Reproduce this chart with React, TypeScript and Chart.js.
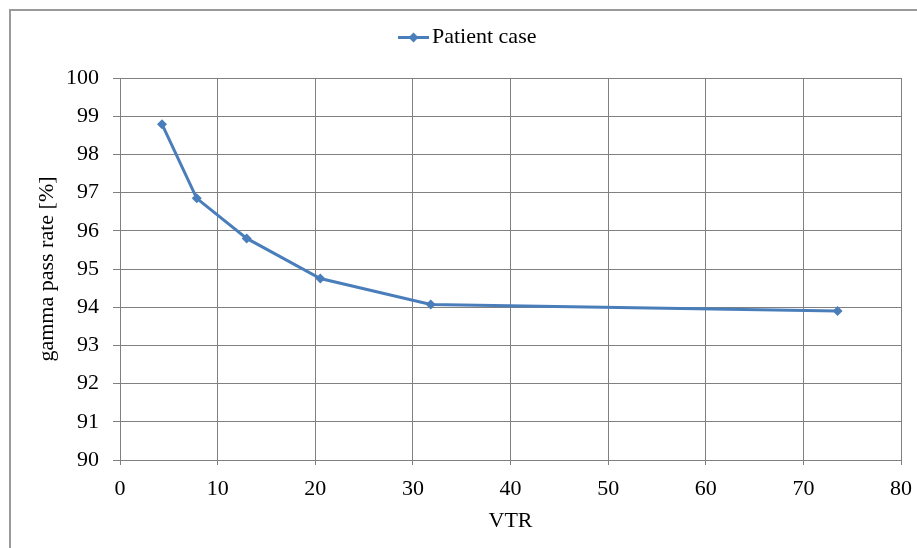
import React, { useEffect, useRef } from "react";
import { Chart, registerables } from "chart.js";

Chart.register(...registerables);

const SERIES_LABEL = "Patient case";
const VTR = [4.3, 7.86, 12.98, 20.52, 31.83, 73.5];
const PASS_RATE = [98.79, 96.85, 95.8, 94.75, 94.07, 93.9];
const X_TITLE = "VTR";
const Y_TITLE = "gamma pass rate [%]";
const X_MIN = 0;
const X_MAX = 80;
const X_STEP = 10;
const Y_MIN = 90;
const Y_MAX = 100;
const Y_STEP = 1;

const FONT = "'Liberation Serif', 'Times New Roman', serif";
const LINE_COLOR = "#4A7EBB";
const GRID_COLOR = "#808080";

const legendPlugin = {
  id: "customLegend",
  afterDraw(chart: any) {
    const ctx = chart.ctx;
    const ds = chart.data.datasets[0];
    const y = 37.5;
    const x0 = 398;
    const x1 = 429;
    ctx.save();
    ctx.strokeStyle = ds.borderColor;
    ctx.lineWidth = 3;
    ctx.beginPath();
    ctx.moveTo(x0, y);
    ctx.lineTo(x1, y);
    ctx.stroke();
    const cx = (x0 + x1) / 2;
    const r = 5;
    ctx.fillStyle = ds.backgroundColor;
    ctx.beginPath();
    ctx.moveTo(cx, y - r);
    ctx.lineTo(cx + r, y);
    ctx.lineTo(cx, y + r);
    ctx.lineTo(cx - r, y);
    ctx.closePath();
    ctx.fill();
    ctx.fillStyle = "#000";
    ctx.font = `22px ${FONT}`;
    ctx.textBaseline = "alphabetic";
    ctx.textAlign = "left";
    ctx.fillText(ds.label, 432, 43);
    ctx.restore();
  },
};

export default function App() {
  const ref = useRef<HTMLCanvasElement | null>(null);

  useEffect(() => {
    if (!ref.current) return;
    const chart = new Chart(ref.current, {
      type: "line",
      data: {
        datasets: [
          {
            label: SERIES_LABEL,
            data: VTR.map((x, i) => ({ x, y: PASS_RATE[i] })),
            borderColor: LINE_COLOR,
            backgroundColor: LINE_COLOR,
            borderWidth: 3,
            pointStyle: "rectRot",
            pointRadius: 5,
            pointBorderWidth: 0,
            tension: 0,
          },
        ],
      },
      options: {
        animation: false,
        responsive: false,
        layout: { padding: { left: 0, right: 16, top: 78, bottom: 0 } },
        plugins: {
          legend: { display: false },
          tooltip: { enabled: false },
        },
        scales: {
          x: {
            type: "linear",
            min: X_MIN,
            max: X_MAX,
            afterFit: (s: any) => {
              s.height = 88;
              s.paddingRight = 0;
              s.paddingLeft = 0;
            },
            ticks: {
              stepSize: X_STEP,
              color: "#000",
              font: { family: FONT, size: 22 },
              padding: 11,
              maxRotation: 0,
            },
            grid: { color: GRID_COLOR, lineWidth: 1, tickLength: 5, tickColor: GRID_COLOR },
            border: { color: GRID_COLOR, width: 1 },
            title: {
              display: true,
              text: X_TITLE,
              color: "#000",
              font: { family: FONT, size: 22 },
              padding: { top: 4, bottom: 14 },
            },
          },
          y: {
            type: "linear",
            min: Y_MIN,
            max: Y_MAX,
            afterFit: (s: any) => {
              s.width = 120;
            },
            ticks: {
              stepSize: Y_STEP,
              color: "#000",
              font: { family: FONT, size: 22 },
              padding: 14,
            },
            grid: { color: GRID_COLOR, lineWidth: 1, tickLength: 7, tickColor: GRID_COLOR },
            border: { color: GRID_COLOR, width: 1 },
            title: {
              display: true,
              text: Y_TITLE,
              color: "#000",
              font: { family: FONT, size: 22 },
              padding: { top: 34, bottom: 4 },
            },
          },
        },
      },
      plugins: [legendPlugin],
    });
    return () => chart.destroy();
  }, []);

  return (
    <div
      style={{
        position: "fixed",
        left: 0,
        top: 0,
        width: 917,
        height: 548,
        overflow: "hidden",
        background: "#fff",
      }}
    >
      <div
        style={{
          position: "absolute",
          left: 9,
          top: 9,
          width: 1000,
          height: 1000,
          border: "2px solid #9a9a9a",
        }}
      />
      <canvas ref={ref} width={917} height={548} style={{ position: "absolute", left: 0, top: 0 }} />
    </div>
  );
}
